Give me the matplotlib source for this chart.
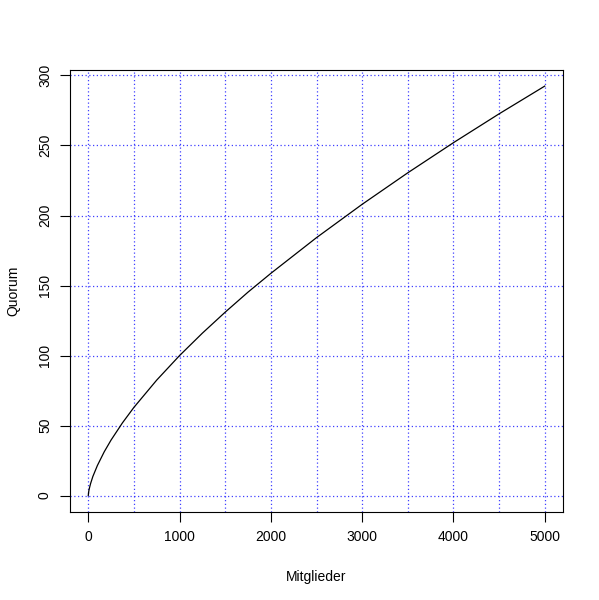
import matplotlib
matplotlib.use("Agg")
import matplotlib.pyplot as plt

# values
mitglieder = [0, 5, 10, 25, 50, 100, 175, 250, 375, 500, 750, 1000, 1250, 1500,
              1750, 2000, 2500, 3000, 3500, 4000, 4500, 5000]
quorum = [0, 2.9, 4.6, 8.5, 13.6, 21.5, 31.3, 39.7, 52.0, 63.0, 82.5, 100.0,
          116.0, 131.0, 145.3, 158.7, 184.2, 208.0, 230.5, 252.0, 272.6, 292.4]

x_ticks = [0, 1000, 2000, 3000, 4000, 5000]
y_ticks = [0, 50, 100, 150, 200, 250, 300]
x_grid = [0, 500, 1000, 1500, 2000, 2500, 3000, 3500, 4000, 4500, 5000]
y_grid = [0, 50, 100, 150, 200, 250, 300]

plt.rcParams['font.family'] = ['Liberation Sans', 'DejaVu Sans']

fig = plt.figure(figsize=(5.99, 6), dpi=100)
ax = fig.add_axes([70/599, 1-512/600, (563-70)/599, (512-70)/600])

for gx in x_grid:
    ax.axvline(gx, color='#0000ff', linestyle=(0, (1, 2)), linewidth=0.9, alpha=0.75, zorder=1)
for gy in y_grid:
    ax.axhline(gy, color='#0000ff', linestyle=(0, (1, 2)), linewidth=0.9, alpha=0.75, zorder=1)

ax.plot(mitglieder, quorum, color='black', linewidth=0.9, zorder=3)

ax.set_xlim(-200, 5200)
ax.set_ylim(-11.7, 303.9)
ax.set_xticks(x_ticks)
ax.set_yticks(y_ticks)
ax.set_yticklabels([str(v) for v in y_ticks], rotation=90, va='center')
ax.tick_params(direction='out', length=7, width=0.8, labelsize=10, pad=6)
for s in ax.spines.values():
    s.set_linewidth(0.8)

ax.set_xlabel('Mitglieder', fontsize=10, labelpad=19)
ax.set_ylabel('Quorum', fontsize=10, labelpad=13)

fig.savefig('out.png', dpi=100)
